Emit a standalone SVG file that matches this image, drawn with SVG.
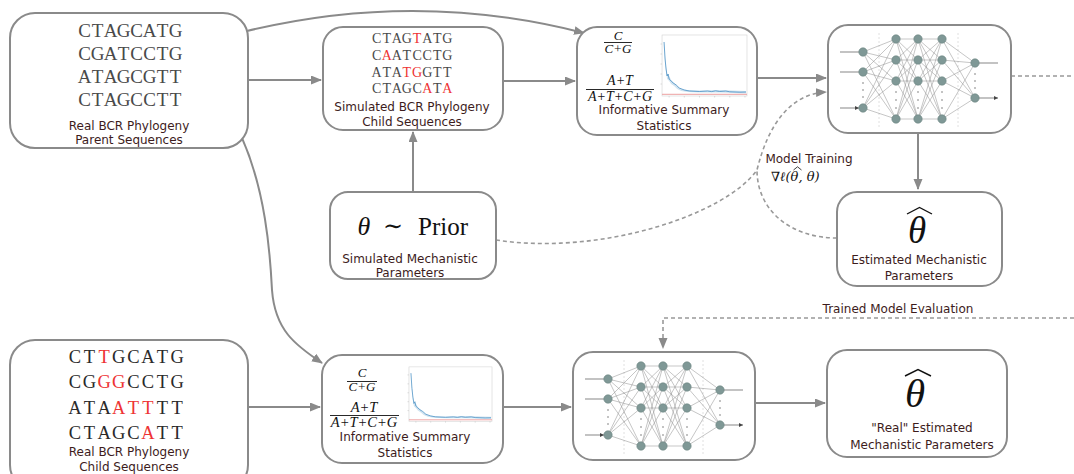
<svg xmlns="http://www.w3.org/2000/svg" width="1074" height="474" viewBox="0 0 1074 474">
  <style>
    .box { fill: #ffffff; stroke: #8a8a8a; stroke-width: 2; }
    .conn { fill: none; stroke: #8a8a8a; stroke-width: 2; }
    .dash { fill: none; stroke: #999999; stroke-width: 1.6; stroke-dasharray: 4 3; }
    .seq { font-family: "Liberation Serif", "DejaVu Serif", serif; fill: #4a4a4a; text-anchor: middle; }
    .mut { fill: #ee3333; }
    .lbl { font-family: "DejaVu Sans", Verdana, sans-serif; font-size: 12px; fill: #3d1c1c; text-anchor: middle; }
    .math { font-family: "Liberation Serif", "DejaVu Serif", serif; font-style: italic; fill: #111111; text-anchor: middle; }
    .rm { font-family: "Liberation Serif", "DejaVu Serif", serif; fill: #111111; }
    .frac { stroke: #111111; stroke-width: 0.9; }
    .hat { fill: none; stroke: #111111; stroke-width: 1.4; stroke-linejoin: miter; }
    .edge { fill: none; stroke: #8c8c8c; stroke-width: 0.5; }
    .neuron { fill: #7f9896; stroke: #6b8482; stroke-width: 0.6; }
    .io { fill: none; stroke: #555555; stroke-width: 0.7; }
    .sep { stroke: #d8d8d8; stroke-width: 0.8; stroke-dasharray: 2 2; }
    .dots { fill: #777777; }
  </style>
  <defs>
    <marker id="arrow" markerUnits="userSpaceOnUse" markerWidth="12" markerHeight="10" refX="10" refY="4.5" orient="auto">
      <path d="M0,0 L11,4.5 L0,9 z" fill="#8a8a8a"/>
    </marker>
    <marker id="small" markerUnits="userSpaceOnUse" markerWidth="6" markerHeight="6" refX="4" refY="2" orient="auto">
      <path d="M0,0 L4,2 L0,4 z" fill="#444444"/>
    </marker>
    <!-- small line chart: statistic decaying towards a constant -->
    <symbol id="plot" viewBox="0 0 88 65" preserveAspectRatio="none">
      <rect x="3" y="1" width="84" height="61" fill="#ffffff" stroke="#d2d2d2" stroke-width="0.6"/>
      <path d="M3 10h-1.5M3 20h-1.5M3 30h-1.5M3 40h-1.5M3 50h-1.5M10 62v1.5M25 62v1.5M40 62v1.5M55 62v1.5M70 62v1.5M85 62v1.5" stroke="#bbbbbb" stroke-width="0.5"/>
      <path d="M5 6 L6 22 L7 33 L8 40 L10 42 L12 46 L15 49 L18 52 L22 55 L28 56 L40 56.5 L60 56 L86 57 L86 59.5 L60 58.5 L40 58.5 L28 58 L22 57 L18 55 L15 52 L12 50 L10 47 L8 45 L7 38 L6 27 Z" fill="#bcd7ea" opacity="0.7"/>
      <path d="M5 8 L6 25 L7 35 L8 42 L9 40 L10 45 L12 47 L14 49 L17 51 L20 54 L25 56 L30 57 L40 57.5 L48 57 L52 57.6 L56 56.8 L60 57.5 L66 57 L70 57.8 L80 58.2 L86 58" fill="none" stroke="#4a90c4" stroke-width="0.8"/>
      <path d="M3 60.3 H87" stroke="#e88888" stroke-width="0.8"/>
    </symbol>
    <!-- feed-forward network: 3 inputs, three hidden layers of 4, 2 outputs -->
    <g id="nnet">
      <path class="sep" d="M51 8V102M130 8V102"/>
      <path class="edge" d="M35 27L68 14M35 27L68 35M35 27L68 56M35 27L68 94M35 47L68 14M35 47L68 35M35 47L68 56M35 47L68 94M35 83L68 14M35 83L68 35M35 83L68 56M35 83L68 94"/>
      <path class="edge" d="M68 14L90 14M68 14L90 35M68 14L90 56M68 14L90 94M68 35L90 14M68 35L90 35M68 35L90 56M68 35L90 94M68 56L90 14M68 56L90 35M68 56L90 56M68 56L90 94M68 94L90 14M68 94L90 35M68 94L90 56M68 94L90 94"/>
      <path class="edge" d="M90 14L114 14M90 14L114 35M90 14L114 56M90 14L114 94M90 35L114 14M90 35L114 35M90 35L114 56M90 35L114 94M90 56L114 14M90 56L114 35M90 56L114 56M90 56L114 94M90 94L114 14M90 94L114 35M90 94L114 56M90 94L114 94"/>
      <path class="edge" d="M114 14L147 38M114 14L147 73M114 35L147 38M114 35L147 73M114 56L147 38M114 56L147 73M114 94L147 38M114 94L147 73"/>
      <path class="io" marker-end="url(#small)" d="M12 27H31M12 47H31M12 83H31"/>
      <path class="io" marker-end="url(#small)" d="M151 38H170M151 73H170"/>
      <g class="dots">
        <circle cx="35" cy="58" r="0.8"/><circle cx="35" cy="65" r="0.8"/><circle cx="35" cy="72" r="0.8"/>
        <circle cx="68" cy="67" r="0.8"/><circle cx="68" cy="75" r="0.8"/><circle cx="68" cy="83" r="0.8"/>
        <circle cx="90" cy="67" r="0.8"/><circle cx="90" cy="75" r="0.8"/><circle cx="90" cy="83" r="0.8"/>
        <circle cx="114" cy="67" r="0.8"/><circle cx="114" cy="75" r="0.8"/><circle cx="114" cy="83" r="0.8"/>
        <circle cx="147" cy="49" r="0.8"/><circle cx="147" cy="56" r="0.8"/><circle cx="147" cy="63" r="0.8"/>
      </g>
      <g class="neuron">
        <circle cx="35" cy="27" r="4.2"/><circle cx="35" cy="47" r="4.2"/><circle cx="35" cy="83" r="4.2"/>
        <circle cx="68" cy="14" r="4.2"/><circle cx="68" cy="35" r="4.2"/><circle cx="68" cy="56" r="4.2"/><circle cx="68" cy="94" r="4.2"/>
        <circle cx="90" cy="14" r="4.2"/><circle cx="90" cy="35" r="4.2"/><circle cx="90" cy="56" r="4.2"/><circle cx="90" cy="94" r="4.2"/>
        <circle cx="114" cy="14" r="4.2"/><circle cx="114" cy="35" r="4.2"/><circle cx="114" cy="56" r="4.2"/><circle cx="114" cy="94" r="4.2"/>
        <circle cx="147" cy="38" r="4.2"/><circle cx="147" cy="73" r="4.2"/>
      </g>
    </g>
  </defs>

  <rect width="1074" height="474" fill="#ffffff"/>

  <!-- connectors -->
  <g id="connectors">
    <path class="conn" marker-end="url(#arrow)" d="M247 31 Q417 -10 584 33"/>
    <path class="conn" marker-end="url(#arrow)" d="M248 80 H321"/>
    <path class="conn" marker-end="url(#arrow)" d="M503 81 H575"/>
    <path class="conn" marker-end="url(#arrow)" d="M757 78 H826"/>
    <path class="conn" marker-end="url(#arrow)" d="M413 192 V132"/>
    <path class="conn" marker-end="url(#arrow)" d="M918 133 V189"/>
    <path class="conn" marker-end="url(#arrow)" d="M242 138 C265 190 270 250 272 290 C275 330 295 345 322 363"/>
    <path class="conn" marker-end="url(#arrow)" d="M248 407 H320"/>
    <path class="conn" marker-end="url(#arrow)" d="M503 407 H571"/>
    <path class="conn" marker-end="url(#arrow)" d="M755 403 H825"/>
    <path class="dash" d="M1011 76 H1074"/>
    <path class="dash" marker-end="url(#arrow)" d="M496 240 C600 256 725 215 757 170 C768 125 790 94 826 92"/>
    <path class="dash" d="M837 238 C790 238 757 210 757 170"/>
    <path class="dash" marker-end="url(#arrow)" d="M1074 318 H663 V348"/>
    <text class="lbl" x="809" y="163">Model Training</text>
    <text x="771" y="181" font-size="13" style="font-family:'DejaVu Serif',serif;font-style:italic;fill:#111111">∇ℓ(θ, θ)</text>
    <path d="M793.5 170 L797.5 166.8 L801.5 170" fill="none" stroke="#111111" stroke-width="0.8"/>
    <text class="lbl" x="898" y="313">Trained Model Evaluation</text>
  </g>

  <!-- real parent sequences -->
  <g id="real-parents">
    <rect class="box" x="10" y="13" width="238" height="135" rx="25"/>
    <text class="seq" x="84.5 97.5 110.5 123.5 136.5 149.5 162.5 175.5" y="37" font-size="19">CTAGCATG</text>
    <text class="seq" x="84.5 97.5 110.5 123.5 136.5 149.5 162.5 175.5" y="60" font-size="19">CGATCCTG</text>
    <text class="seq" x="84.5 97.5 110.5 123.5 136.5 149.5 162.5 175.5" y="83" font-size="19">ATAGCGTT</text>
    <text class="seq" x="84.5 97.5 110.5 123.5 136.5 149.5 162.5 175.5" y="106" font-size="19">CTAGCCTT</text>
    <text class="lbl" x="129" y="130">Real BCR Phylogeny</text>
    <text class="lbl" x="129" y="144">Parent Sequences</text>
  </g>

  <!-- simulated child sequences -->
  <g id="simulated-children">
    <rect class="box" x="323" y="27" width="180" height="103" rx="20"/>
    <text class="seq" x="376.6 386.7 396.8 406.9 417.1 427.2 437.3 447.4" y="43" font-size="14">CTAG<tspan class="mut">T</tspan>ATG</text>
    <text class="seq" x="376.6 386.7 396.8 406.9 417.1 427.2 437.3 447.4" y="60" font-size="14">C<tspan class="mut">A</tspan>ATCCTG</text>
    <text class="seq" x="376.6 386.7 396.8 406.9 417.1 427.2 437.3 447.4" y="77" font-size="14">ATA<tspan class="mut">TG</tspan>GTT</text>
    <text class="seq" x="376.6 386.7 396.8 406.9 417.1 427.2 437.3 447.4" y="93" font-size="14">CTAGC<tspan class="mut">A</tspan>T<tspan class="mut">A</tspan></text>
    <text class="lbl" x="412" y="111">Simulated BCR  Phylogeny</text>
    <text class="lbl" x="412" y="126">Child Sequences</text>
  </g>

  <!-- summary statistics (training branch) -->
  <g id="summary-stats">
    <rect class="box" x="577" y="27" width="180" height="108" rx="20"/>
    <text class="math" x="618" y="40" font-size="13">C</text>
    <line class="frac" x1="604" y1="42.5" x2="632" y2="42.5"/>
    <text class="math" x="618" y="53" font-size="13">C+G</text>
    <text class="math" x="620" y="85" font-size="14">A+T</text>
    <line class="frac" x1="586" y1="89.5" x2="654" y2="89.5"/>
    <text class="math" x="620" y="101" font-size="14">A+T+C+G</text>
    <use href="#plot" x="659" y="34" width="89" height="65"/>
    <text class="lbl" x="664" y="114">Informative Summary</text>
    <text class="lbl" x="664" y="130">Statistics</text>
  </g>

  <!-- neural network (training) -->
  <g id="network-train">
    <rect class="box" x="828" y="25" width="183" height="108" rx="20"/>
    <use href="#nnet" transform="translate(828,25)"/>
  </g>

  <!-- prior over parameters -->
  <g id="prior">
    <rect class="box" x="330" y="192" width="166" height="87" rx="18"/>
    <text class="math" x="364" y="235" font-size="26">θ</text>
    <text class="rm" x="393" y="234" font-size="24" text-anchor="middle" style="font-family:'DejaVu Serif',serif">∼</text>
    <text class="rm" x="418" y="235" font-size="25">Prior</text>
    <text class="lbl" x="410" y="263" font-size="13">Simulated Mechanistic</text>
    <text class="lbl" x="410" y="277" font-size="13">Parameters</text>
  </g>

  <!-- estimated parameters -->
  <g id="estimate">
    <rect class="box" x="837" y="192" width="165" height="94" rx="20"/>
    <path class="hat" d="M907 214 L919.5 207.5 L932 214"/>
    <text class="math" x="917" y="243" font-size="37">θ</text>
    <text class="lbl" x="919" y="264">Estimated Mechanistic</text>
    <text class="lbl" x="919" y="280">Parameters</text>
  </g>

  <!-- real child sequences -->
  <g id="real-children">
    <rect class="box" x="10" y="340" width="238" height="150" rx="25"/>
    <text class="seq" x="74.9 89.5 104.1 118.7 133.3 147.9 162.5 177.1" y="363" font-size="18.5" style="fill:#2a2a2a">CT<tspan class="mut">T</tspan>GCATG</text>
    <text class="seq" x="74.9 89.5 104.1 118.7 133.3 147.9 162.5 177.1" y="388" font-size="18.5" style="fill:#2a2a2a">CG<tspan class="mut">GG</tspan>CCTG</text>
    <text class="seq" x="74.9 89.5 104.1 118.7 133.3 147.9 162.5 177.1" y="414" font-size="18.5" style="fill:#2a2a2a">ATA<tspan class="mut">ATT</tspan>TT</text>
    <text class="seq" x="74.9 89.5 104.1 118.7 133.3 147.9 162.5 177.1" y="439" font-size="18.5" style="fill:#2a2a2a">CTAGC<tspan class="mut">A</tspan>TT</text>
    <text class="lbl" x="129" y="456">Real BCR Phylogeny</text>
    <text class="lbl" x="129" y="471">Child Sequences</text>
  </g>

  <!-- summary statistics (evaluation branch) -->
  <g id="summary-stats-real">
    <rect class="box" x="322" y="355" width="181" height="108" rx="20"/>
    <text class="math" x="362" y="377" font-size="13">C</text>
    <line class="frac" x1="347" y1="381.5" x2="377" y2="381.5"/>
    <text class="math" x="362" y="391" font-size="13">C+G</text>
    <text class="math" x="364" y="412" font-size="14.5">A+T</text>
    <line class="frac" x1="330" y1="415.5" x2="399" y2="415.5"/>
    <text class="math" x="364" y="427" font-size="14.5">A+T+C+G</text>
    <use href="#plot" x="406" y="366" width="87" height="58"/>
    <text class="lbl" x="405" y="441" font-size="13.3">Informative Summary</text>
    <text class="lbl" x="405" y="457" font-size="13.3">Statistics</text>
  </g>

  <!-- neural network (evaluation) -->
  <g id="network-eval">
    <rect class="box" x="573" y="352" width="182" height="108" rx="20"/>
    <use href="#nnet" transform="translate(573,352)"/>
  </g>

  <!-- real estimated parameters -->
  <g id="real-estimate">
    <rect class="box" x="827" y="350" width="180" height="107" rx="20"/>
    <path class="hat" d="M905 376 L918 369.5 L931 376"/>
    <text class="math" x="915" y="407" font-size="41">θ</text>
    <text class="lbl" x="922" y="432" font-size="12.5">"Real" Estimated</text>
    <text class="lbl" x="922" y="449" font-size="12.5">Mechanistic Parameters</text>
  </g>
</svg>
